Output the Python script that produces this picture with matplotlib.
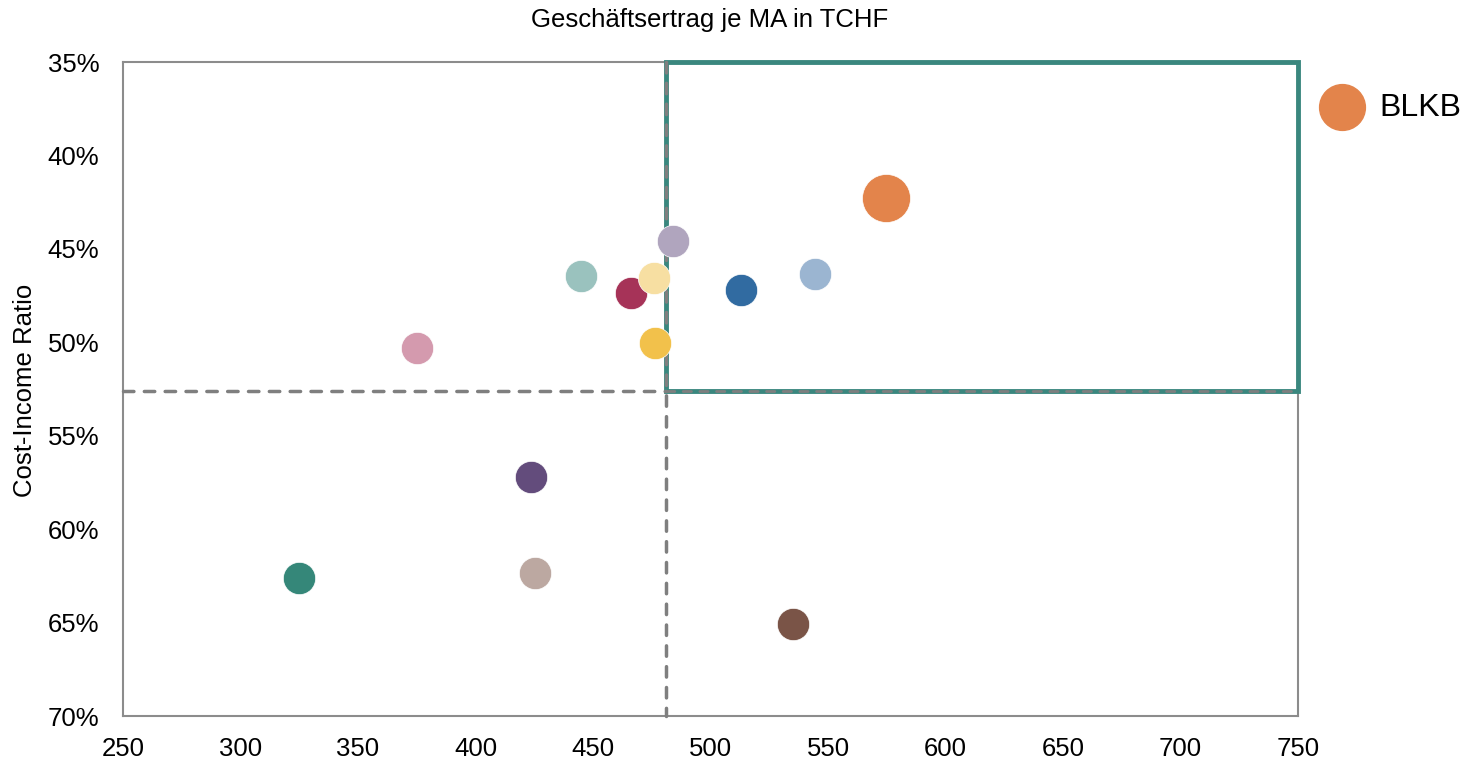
import matplotlib
matplotlib.use("Agg")
import matplotlib.pyplot as plt
from matplotlib.patches import Rectangle
from matplotlib.ticker import FuncFormatter

plt.rcParams['font.family'] = ['Liberation Sans', 'DejaVu Sans']

# Data (x: Geschäftsertrag je MA in TCHF, y: Cost-Income Ratio in %)
labels = ["BLKB", "B1", "B2", "B3", "B4", "B5", "B6", "B7", "B8", "B9", "B10", "B11", "B12"]
ertrag = [574.7, 484, 445, 466, 476, 513, 544.5, 476.5, 375, 423.5, 325, 425.5, 535]
cir = [42.3, 44.6, 46.45, 47.35, 46.55, 47.2, 46.35, 50.05, 50.3, 57.2, 62.6, 62.35, 65.05]
colors = ["#E3844B", "#B0A5BE", "#9AC2BE", "#A63358", "#F7DFA2", "#316BA1",
          "#9BB5D1", "#F2C14B", "#D49AAE", "#634C7C", "#358779", "#BCA8A1", "#7A5447"]
x_thresh = 481
y_thresh = 52.6

fig = plt.figure(figsize=(14.65, 7.61), dpi=100)
ax = fig.add_axes([123/1465, 1-716/761, (1298-123)/1465, (716-62)/761])

# Quadrant rectangle
ax.add_patch(Rectangle((x_thresh, 35), 750 - x_thresh, y_thresh - 35, fill=False,
                       edgecolor="#3A877E", linewidth=3.5, zorder=2, clip_on=False))
ax.plot([x_thresh, x_thresh], [35, 70], ls=(0, (3, 3)), color="#7F7F7F", lw=2.5,
        zorder=3, dash_capstyle='round', clip_on=False)
ax.plot([250, x_thresh], [y_thresh, y_thresh], ls=(0, (3, 3)), color="#7F7F7F", lw=2.5,
        zorder=3, dash_capstyle='round', clip_on=False)
ax.plot([x_thresh, 750], [y_thresh, y_thresh], ls=(0, (3, 3)), color="#7F7F7F", lw=2.0,
        zorder=3, dash_capstyle='round', clip_on=False)

for i, (xv, yv, c) in enumerate(zip(ertrag, cir, colors)):
    s = 1200 if i == 0 else 540
    ax.scatter([xv], [yv], s=s, color=c, edgecolors="white", linewidths=0.5, zorder=4)

ax.set_xlim(250, 750)
ax.set_ylim(70, 35)
ax.set_xticks(range(250, 751, 50))
ax.set_yticks(range(35, 71, 5))
ax.yaxis.set_major_formatter(FuncFormatter(lambda v, p: f"{int(v)}%"))
ax.tick_params(axis='both', length=0, labelsize=18.5)
ax.tick_params(axis='y', pad=17)
ax.tick_params(axis='x', pad=15)
for sp in ax.spines.values():
    sp.set_color("#8C8C8C")
    sp.set_linewidth(1.5)
    sp.set_zorder(1)

fig.text(25/1465, 1-390/761, "Cost-Income Ratio", ha="center", va="center",
         rotation=90, fontsize=18.5)
fig.text(710/1465, 1-20/761, "Geschäftsertrag je MA in TCHF", ha="center", va="center", fontsize=18.5)

# Legend
fig.lines.append(plt.Line2D([1342/1465], [1-107/761], marker='o', markersize=33,
                            color="#E3844B", transform=fig.transFigure, linestyle='None'))
fig.text(1379/1465, 1-108/761, "BLKB", ha="left", va="center", fontsize=23)

fig.savefig("out.png", dpi=100, facecolor="white")
